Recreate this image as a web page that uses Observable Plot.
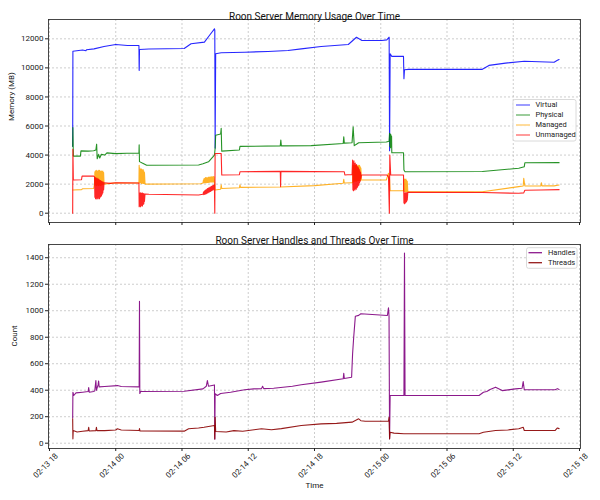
<!DOCTYPE html>
<html><head><meta charset="utf-8">
<script src="https://cdn.jsdelivr.net/npm/d3@7"></script>
<script src="https://cdn.jsdelivr.net/npm/@observablehq/plot@0.6"></script>
<style>body{margin:0;background:#fff;} #chart svg{display:block;}</style>
</head><body><div id="chart"></div>
<script>
// time origin: 02-13 18:00 ; values are [hours since origin, value]
const startUTC = Date.UTC(2025, 1, 13, 18);
const xTickHours = [0, 6, 12, 18, 24, 30, 36, 42, 48];
const memTicks = [0, 2000, 4000, 6000, 8000, 10000, 12000];
const countTicks = [0, 200, 400, 600, 800, 1000, 1200, 1400];
const memSeries = ["Virtual", "Physical", "Managed", "Unmanaged"];
const countSeries = ["Handles", "Threads"];

const virtual = [[2.10,4600],[2.12,11150],[3.0,11230],[3.3,11180],[3.35,11250],[4.03,11310],[4.94,11470],[6.0,11610],[7.06,11540],[8.10,11540],[8.12,9830],[8.13,10000],[8.15,11270],[9.0,11300],[12.2,11330],[12.82,11660],[14.03,11770],[14.48,12230],[14.94,12690],[14.97,12600],[15.0,4480],[15.05,10970],[15.55,11040],[17.67,11080],[19.79,11130],[21.6,11200],[22.8,11310],[24.6,11470],[27.06,11610],[27.8,12110],[28.3,11880],[30.1,11880],[30.55,11930],[30.76,12110],[30.8,4300],[30.85,10970],[31.0,10790],[32.06,10790],[32.1,9260],[32.15,9870],[32.5,9900],[39.2,9900],[39.8,10170],[41.3,10330],[43.0,10460],[45.7,10390],[46.0,10520],[46.15,10580]];

const physical = [[2.10,4600],[2.12,5900],[2.16,3930],[2.8,3930],[2.85,4290],[3.5,4270],[4.0,4300],[4.2,4350],[4.27,4750],[4.32,3750],[4.45,4050],[4.55,3800],[4.7,4050],[5.0,4000],[5.2,4150],[6.0,4100],[7.0,4130],[8.1,4130],[8.12,4700],[8.15,3550],[8.4,3450],[8.8,3300],[13.5,3320],[13.9,3400],[14.4,3540],[14.94,4000],[15.0,4450],[15.05,5370],[15.5,5450],[15.55,5850],[15.6,4270],[17.2,4350],[17.25,4600],[20.9,4630],[20.95,5030],[21.0,4630],[23.7,4650],[26.6,4800],[26.65,5250],[26.7,4820],[27.4,4850],[27.5,5940],[27.6,4650],[27.8,4750],[28.0,4850],[30.5,4900],[30.75,4950],[30.8,5500],[30.83,4600],[30.86,5450],[30.89,4500],[30.92,5400],[30.95,4600],[30.98,5300],[31.0,4160],[32.06,4160],[32.1,2970],[32.2,2850],[39.2,2870],[42.5,3090],[43.0,3200],[43.05,3470],[46.15,3480]];

const managed = [[2.12,1600],[2.9,1620],[3.0,1680],[4.0,1700],
[4.08,2000],[4.11,2850],[4.14,1950],[4.17,2900],[4.2,1950],[4.23,2950],[4.26,1900],[4.29,2900],[4.32,1950],[4.35,2850],[4.38,1950],[4.41,2950],[4.44,1900],[4.47,2900],[4.5,1950],[4.53,2950],[4.56,1950],[4.59,2900],[4.62,1900],[4.65,2850],[4.68,1950],[4.71,2900],[4.74,1950],[4.77,2850],[4.8,2000],[4.83,2900],[4.86,2000],[4.9,2800],[4.94,2000],
[5.5,2050],[6.0,2080],[8.1,2080],
[8.12,3300],[8.15,2100],[8.18,3100],[8.21,2100],[8.24,3000],[8.27,2100],[8.3,3050],[8.33,2050],[8.36,3000],[8.39,2100],[8.42,2950],[8.45,2050],[8.48,3000],[8.51,2050],[8.54,2900],[8.57,2050],[8.6,2800],[8.65,2050],[8.7,2000],
[13.7,2030],[13.9,2080],
[13.95,2300],[13.98,2080],[14.01,2400],[14.04,2100],[14.07,2350],[14.1,2100],[14.13,2450],[14.16,2100],[14.19,2400],[14.22,2100],[14.25,2450],[14.28,2120],[14.31,2400],[14.34,2120],[14.37,2450],[14.4,2120],[14.43,2480],[14.46,2130],[14.49,2450],[14.52,2130],[14.55,2500],[14.58,2150],[14.61,2450],[14.64,2150],[14.67,2500],[14.7,2150],[14.73,2480],[14.76,2150],[14.79,2500],[14.82,2150],[14.85,2520],[14.88,2150],[14.91,2500],[14.94,2200],
[15.0,1600],[15.5,1650],[15.55,1950],[15.6,1700],[17.2,1750],[17.25,1950],[17.3,1780],[20.9,1800],[24.0,1900],[26.6,2060],[26.65,2330],[26.7,2080],[27.4,2100],
[27.45,2100],[27.48,3300],[27.51,2150],[27.54,3250],[27.57,2200],[27.6,3300],[27.63,2200],[27.66,3200],[27.69,2200],[27.72,3300],[27.75,2250],[27.78,3250],[27.81,2200],[27.84,3300],[27.87,2250],[27.9,3200],[27.93,2250],[27.96,3300],[27.99,2250],[28.02,3250],[28.05,2250],[28.08,3300],[28.11,2250],[28.14,3200],[28.17,2250],[28.2,3100],[28.25,2280],
[30.5,2280],[30.7,2750],[30.8,2300],[30.85,1550],[32.06,1550],
[32.1,2300],[32.13,1500],[32.16,2350],[32.19,1500],[32.22,2300],[32.25,1480],[32.28,2350],[32.31,1500],[32.34,2250],[32.37,1480],[32.4,2200],[32.45,1480],
[39.2,1480],[42.5,1830],[42.9,1870],[42.95,2400],[43.05,1870],[44.5,1880],[44.55,2100],[44.6,1880],[45.7,1880],[46.15,1940]];

const unmanaged = [[2.10,0],[2.12,4400],[2.16,2280],[2.9,2300],[2.95,2550],[4.0,2550],
[4.08,2500],[4.11,1100],[4.14,2400],[4.17,1000],[4.2,2450],[4.23,1050],[4.26,2350],[4.29,980],[4.32,2400],[4.35,1050],[4.38,2300],[4.41,1000],[4.44,2350],[4.47,1100],[4.5,2300],[4.53,1000],[4.56,2250],[4.59,1100],[4.62,2250],[4.65,1150],[4.68,2200],[4.71,1200],[4.74,2200],[4.77,1300],[4.8,2150],[4.83,1400],[4.86,2150],[4.9,1600],[4.94,2100],
[5.5,2050],[6.0,2100],[8.1,2080],
[8.12,450],[8.15,1350],[8.18,500],[8.21,1400],[8.24,450],[8.27,1380],[8.3,500],[8.33,1350],[8.36,550],[8.39,1400],[8.42,500],[8.45,1350],[8.48,600],[8.51,1350],[8.54,650],[8.57,1330],[8.6,800],[8.65,1320],
[9.0,1300],[13.5,1250],[13.9,1300],
[13.95,1450],[13.98,1280],[14.01,1500],[14.04,1300],[14.07,1550],[14.1,1300],[14.13,1600],[14.16,1350],[14.19,1600],[14.22,1350],[14.25,1650],[14.28,1400],[14.31,1700],[14.34,1400],[14.37,1700],[14.4,1450],[14.43,1750],[14.46,1450],[14.49,1750],[14.52,1500],[14.55,1800],[14.58,1500],[14.61,1800],[14.64,1550],[14.67,1850],[14.7,1550],[14.73,1850],[14.76,1600],[14.79,1900],[14.82,1600],[14.85,1900],[14.88,1650],[14.91,1950],[14.94,1700],
[14.97,0],[15.0,4110],[15.55,4110],[15.6,2630],[17.2,2650],[17.25,2850],[20.9,2880],[20.93,1830],[20.96,2880],[26.7,2850],[26.75,2630],[27.0,2650],[27.4,2650],
[27.45,3650],[27.48,1600],[27.51,3500],[27.54,1550],[27.57,3600],[27.6,1650],[27.63,3400],[27.66,1600],[27.69,3450],[27.72,1700],[27.75,3300],[27.78,1650],[27.81,3350],[27.84,1750],[27.87,3200],[27.9,1800],[27.93,3200],[27.96,1900],[27.99,3100],[28.02,1950],[28.05,3000],[28.08,2100],[28.11,2900],[28.14,2200],[28.17,2800],[28.2,2400],[28.25,2630],
[30.55,2630],[30.7,2500],[30.78,0],[30.82,4000],[30.9,2630],[32.06,2630],
[32.1,700],[32.13,1400],[32.16,650],[32.19,1380],[32.22,700],[32.25,1400],[32.28,750],[32.31,1380],[32.34,800],[32.37,1420],[32.4,900],[32.45,1440],
[39.2,1420],[42.5,1370],[42.95,1400],[43.05,1580],[44.5,1600],[46.15,1620]];

const handles = [[2.10,190],[2.12,385],[2.2,360],[2.4,380],[3.0,385],[3.5,390],[3.55,420],[3.6,385],[4.0,390],[4.1,395],[4.2,473],[4.25,400],[4.4,440],[4.45,470],[4.5,425],[5.0,428],[6.15,435],[6.5,428],[8.12,425],[8.15,1072],[8.18,375],[8.25,390],[12.2,392],[13.9,410],[14.2,430],[14.3,473],[14.4,430],[14.94,440],[14.97,30],[15.0,373],[15.2,360],[15.5,375],[16.4,385],[17.67,403],[18.5,410],[19.2,412],[19.3,430],[19.4,412],[20.3,415],[22.0,430],[22.8,441],[24.6,461],[26.6,486],[26.65,528],[26.7,488],[27.36,498],[27.45,675],[27.55,800],[27.7,959],[28.0,965],[28.2,977],[30.6,964],[30.7,1022],[30.75,960],[30.8,33],[30.85,360],[32.1,360],[32.15,1435],[32.2,360],[38.9,360],[39.3,385],[39.6,390],[39.9,405],[40.4,423],[41.0,397],[42.2,410],[42.8,415],[42.9,466],[43.0,403],[45.8,403],[46.0,412],[46.15,405]];

const threads = [[2.10,184],[2.12,33],[2.15,96],[2.5,85],[3.0,90],[3.5,95],[3.55,120],[3.6,92],[4.2,95],[4.25,120],[4.3,95],[5.0,95],[6.0,100],[6.15,109],[6.5,100],[8.12,96],[8.15,110],[8.2,92],[12.2,91],[12.6,109],[13.5,115],[14.0,120],[14.94,134],[14.97,33],[15.0,196],[15.05,88],[16.0,85],[16.7,95],[17.5,90],[19.2,109],[20.1,102],[21.0,110],[22.8,134],[24.6,146],[26.0,150],[27.4,159],[28.0,184],[28.2,170],[28.6,166],[30.7,166],[30.75,196],[30.8,33],[30.85,83],[31.2,76],[32.1,71],[38.9,71],[39.3,83],[40.4,96],[41.5,100],[42.5,109],[42.9,120],[43.0,96],[45.8,96],[46.0,115],[46.15,110]];

const memColors = ["#0000ff", "#008000", "#ffa500", "#ff0000"];
const countColors = ["#800080", "#8b0000"];

const toDate = h => new Date(startUTC + h * 3600e3);
const fmt = d3.utcFormat("%m-%d %H");
const xTicks = xTickHours.map(toDate);
const xDomain = [toDate(-0.09), toDate(48.09)];

const memTable = [virtual, physical, managed, unmanaged].flatMap((arr, i) => arr.map(([h, v]) => ({t: toDate(h), v, s: memSeries[i]})));
const countTable = [handles, threads].flatMap((arr, i) => arr.map(([h, v]) => ({t: toDate(h), v, s: countSeries[i]})));

const font = "Roboto, 'DejaVu Sans', sans-serif";
const gridStyle = {stroke: "#b8b8b8", strokeOpacity: 1, strokeDasharray: "2,2", strokeWidth: 0.7};
const intFmt = d3.format("d");

const memChart = Plot.plot({
  width: 600, height: 230,
  marginTop: 19, marginBottom: 8, marginLeft: 48, marginRight: 20,
  style: {fontFamily: font, fontSize: "8px", background: "white", color: "#222"},
  x: {type: "utc", domain: xDomain},
  y: {domain: [-640, 13330]},
  color: {domain: memSeries, range: memColors},
  marks: [
    Plot.gridX(xTicks, gridStyle),
    Plot.gridY(memTicks, gridStyle),
    Plot.line(memTable, {x: "t", y: "v", z: "s", stroke: "s", strokeWidth: 1.1, strokeOpacity: 0.85}),
    Plot.frame({stroke: "#333", strokeWidth: 0.9}),
    Plot.axisX(xTicks, {tickSize: 3, tickFormat: () => "", label: null}),
    Plot.axisY(memTicks, {tickSize: 3, tickPadding: 2, label: null, fontSize: 8, tickFormat: intFmt}),
    Plot.text(["Roon Server Memory Usage Over Time"], {frameAnchor: "top", dy: -7, fontSize: 10, fill: "#111"}),
    Plot.text(["Memory (MB)"], {frameAnchor: "left", dx: -37, rotate: -90, fontSize: 8, fill: "#111"})
  ]
});

const countChart = Plot.plot({
  width: 600, height: 270,
  marginTop: 14, marginBottom: 52, marginLeft: 48, marginRight: 20,
  style: {fontFamily: font, fontSize: "8px", background: "white", color: "#222"},
  x: {type: "utc", domain: xDomain},
  y: {domain: [-40, 1500]},
  color: {domain: countSeries, range: countColors},
  marks: [
    Plot.gridX(xTicks, gridStyle),
    Plot.gridY(countTicks, gridStyle),
    Plot.line(countTable, {x: "t", y: "v", z: "s", stroke: "s", strokeWidth: 1.1, strokeOpacity: 0.9}),
    Plot.frame({stroke: "#333", strokeWidth: 0.9}),
    Plot.axisX(xTicks, {tickSize: 3, tickFormat: () => "", label: null}),
    Plot.text(xTicks, {x: d => d, text: d => fmt(d), frameAnchor: "bottom", dy: 19, dx: -2, rotate: -45, textAnchor: "middle", fontSize: 8, fill: "#222"}),
    Plot.axisY(countTicks, {tickSize: 3, tickPadding: 2, label: null, fontSize: 8, tickFormat: intFmt}),
    Plot.text(["Roon Server Handles and Threads Over Time"], {frameAnchor: "top", dy: -8, fontSize: 10, fill: "#111"}),
    Plot.text(["Count"], {frameAnchor: "left", dx: -34, rotate: -90, fontSize: 8, fill: "#111"}),
    Plot.text(["Time"], {frameAnchor: "bottom", dy: 39, fontSize: 8, fill: "#111"})
  ]
});

function addLegend(svg, names, colors, box, lineX0, lineX1, textX, rowY, opacity) {
  const g = d3.select(svg).append("g").attr("font-family", font).attr("font-size", 7.5).attr("text-anchor", "start");
  g.append("rect").attr("x", box[0]).attr("y", box[1]).attr("width", box[2]).attr("height", box[3])
    .attr("rx", 2).attr("fill", "white").attr("fill-opacity", 0.85).attr("stroke", "#d0d0d0").attr("stroke-width", 0.8);
  names.forEach((n, i) => {
    g.append("line").attr("x1", lineX0).attr("x2", lineX1).attr("y1", rowY[i]).attr("y2", rowY[i])
      .attr("stroke", colors[i]).attr("stroke-width", 1.3).attr("stroke-opacity", opacity);
    g.append("text").attr("x", textX).attr("y", rowY[i]).attr("dy", "0.32em").attr("text-anchor", "start").attr("fill", "#222").text(n);
  });
}
addLegend(memChart, memSeries, memColors, [513, 99.5, 63, 41.5], 516, 530, 535.5, [105, 115, 125, 135], 0.6);
addLegend(countChart, countSeries, countColors, [526.5, 17.7, 50.5, 20.6], 528.5, 542, 548, [22.7, 32.7], 0.9);

document.getElementById("chart").append(memChart, countChart);
</script>
</body></html>
